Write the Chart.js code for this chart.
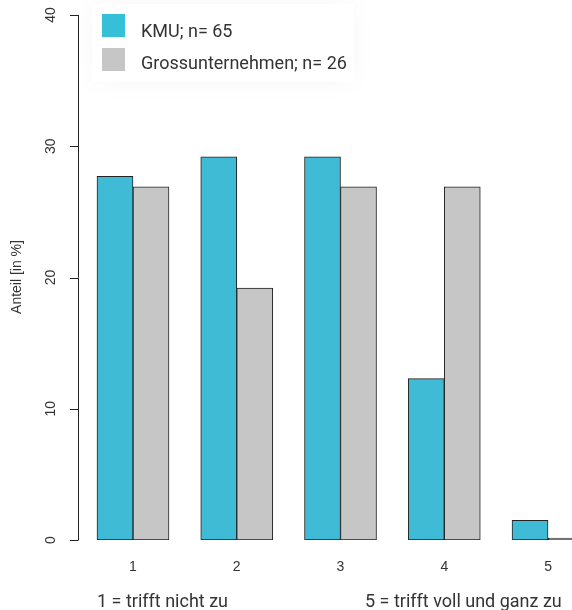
<!DOCTYPE html>
<html>
<head>
<meta charset="utf-8">
<script src="https://cdn.jsdelivr.net/npm/chart.js@4/dist/chart.umd.min.js"></script>
<style>
  html, body { margin: 0; padding: 0; background: white; overflow: hidden; }
  #myChart { display: block; }
</style>
</head>
<body>
<canvas id="myChart" width="572" height="610"></canvas>
<script>
const categories = [1, 2, 3, 4, 5]; // Antwortstufen
const kmuValues = [27.7, 29.2, 29.2, 12.3, 1.5];
const grossValues = [26.9, 19.2, 26.9, 26.9, 0];
const yTicks = [0, 10, 20, 30, 40];
const seriesLabels = ["KMU; n= 65", "Grossunternehmen; n= 26"];
const seriesColors = ["#40bbd6", "#c6c6c6"];
const legendColors = ["#36c0d8", "#c6c6c6"];
const yTitle = "Anteil [in %]";
const leftNote = "1 = trifft nicht zu";
const rightNote = "5 = trifft voll und ganz zu";

const textFont = "Roboto, 'Liberation Sans', sans-serif";
const axisFont = "'Liberation Sans', Arial, sans-serif";

// eigene Achsen, Legende und Texte (wie R barplot)
const extras = {
    id: "extras",
    beforeDraw(chart) {
        const ctx = chart.ctx;
        // ganz leichter Schatten hinter der Legende
        ctx.save();
        ctx.shadowColor = "rgba(0,0,0,0.035)";
        ctx.shadowBlur = 25;
        ctx.fillStyle = "white";
        ctx.fillRect(92, 4, 262, 78);
        ctx.restore();
    },
    afterDraw(chart) {
        const ctx = chart.ctx;
        const y = chart.scales.y;
        const x = chart.scales.x;
        const left = chart.chartArea.left;
        ctx.save();
        ctx.strokeStyle = "#222";
        ctx.lineWidth = 1;
        ctx.beginPath();
        ctx.moveTo(left + 0.5, y.getPixelForValue(yTicks[0]));
        ctx.lineTo(left + 0.5, y.getPixelForValue(yTicks[yTicks.length - 1]));
        yTicks.forEach(v => {
            const py = Math.round(y.getPixelForValue(v)) + 0.5;
            ctx.moveTo(left - 8, py);
            ctx.lineTo(left + 0.5, py);
        });
        ctx.stroke();

        ctx.fillStyle = "#333";
        ctx.font = "14px " + axisFont;
        ctx.textAlign = "center";
        ctx.textBaseline = "middle";
        yTicks.forEach(v => {
            ctx.save();
            ctx.translate(51, y.getPixelForValue(v));
            ctx.rotate(-Math.PI / 2);
            ctx.fillText(String(v), 0, 0);
            ctx.restore();
        });
        ctx.save();
        ctx.translate(17, 277);
        ctx.rotate(-Math.PI / 2);
        ctx.font = "14px " + axisFont;
        ctx.fillText(yTitle, 0, 0);
        ctx.restore();

        // Kategorien
        ctx.font = "14px " + axisFont;
        categories.forEach(c => {
            ctx.fillText(String(c), x.getPixelForValue(c), 567);
        });

        // Legende
        ctx.font = "18px " + textFont;
        ctx.textAlign = "left";
        ctx.textBaseline = "alphabetic";
        seriesLabels.forEach((lab, i) => {
            const top = 14 + i * 34;
            ctx.fillStyle = legendColors[i];
            ctx.fillRect(102, top, 23, 23);
            ctx.fillStyle = "#333";
            ctx.fillText(lab, 141, 37 + i * 32);
        });

        // Skalenhinweise
        ctx.font = "18px " + textFont;
        ctx.fillText(leftNote, 97, 607);
        ctx.fillText(rightNote, 365, 607);
        ctx.restore();
    }
};

const toPoints = vals => vals.map((v, i) => ({ x: categories[i], y: v }));

new Chart(document.getElementById("myChart"), {
    type: "bar",
    data: {
        datasets: [
            {
                label: seriesLabels[0],
                data: toPoints(kmuValues),
                backgroundColor: seriesColors[0],
                borderColor: "#222",
                borderWidth: 1,
                borderSkipped: false
            },
            {
                label: seriesLabels[1],
                data: toPoints(grossValues),
                backgroundColor: seriesColors[1],
                borderColor: "#222",
                borderWidth: 1,
                borderSkipped: false,
                minBarLength: 2 // Nullwert als Linie sichtbar
            }
        ]
    },
    options: {
        responsive: false,
        animation: false,
        barThickness: 36,
        layout: { padding: { left: 78, top: 15, right: 0, bottom: 70 } },
        scales: {
            x: { type: "linear", min: 0.47, max: 5.231, offset: false, display: false },
            y: { min: 0, max: 40, display: false }
        },
        plugins: {
            legend: { display: false },
            tooltip: { enabled: false }
        }
    },
    plugins: [extras]
});
</script>
</body>
</html>
